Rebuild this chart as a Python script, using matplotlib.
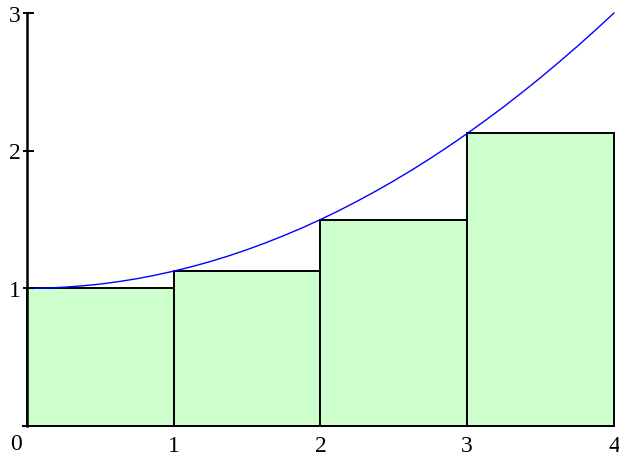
import matplotlib
matplotlib.use("Agg")
import matplotlib.pyplot as plt
from matplotlib.patches import Rectangle
from matplotlib.transforms import offset_copy

# Left-endpoint rectangles under the curve on [0, 4]
left_edges = [0, 1, 2, 3]
heights = [1.0, 1.125, 1.5, 2.125]
width = 1.0

# Curve samples
curve_x = [0, 0.125, 0.25, 0.375, 0.5, 0.625, 0.75, 0.875, 1.0,
           1.125, 1.25, 1.375, 1.5, 1.625, 1.75, 1.875, 2.0,
           2.125, 2.25, 2.375, 2.5, 2.625, 2.75, 2.875, 3.0,
           3.125, 3.25, 3.375, 3.5, 3.625, 3.75, 3.875, 4.0]
curve_y = [1.0, 1.002, 1.008, 1.018, 1.031, 1.049, 1.070, 1.096, 1.125,
           1.158, 1.195, 1.236, 1.281, 1.330, 1.383, 1.439, 1.5,
           1.564, 1.633, 1.705, 1.781, 1.861, 1.945, 2.033, 2.125,
           2.221, 2.320, 2.424, 2.531, 2.643, 2.758, 2.877, 3.0]

x_ticks = [1, 2, 3, 4]
y_ticks = [1, 2, 3]

FILL = "#ccffcc"
FONT = "Liberation Serif"
FS = 17

W, H = 619, 458
fig = plt.figure(figsize=(W / 100, H / 100), dpi=100)
ax = fig.add_axes([27 / W, (H - 426) / H, (614 - 27) / W, (426 - 13) / H])
ax.set_xlim(0, 4)
ax.set_ylim(0, 3)
for s in ax.spines.values():
    s.set_visible(False)
ax.set_xticks([])
ax.set_yticks([])

for x0, h in zip(left_edges, heights):
    ax.add_patch(Rectangle((x0, 0), width, h, facecolor=FILL,
                           edgecolor="black", linewidth=1.4, zorder=2,
                           clip_on=False))

ax.plot(curve_x, curve_y, color="#0000ff", linewidth=1.0, zorder=3,
        clip_on=False)

# y axis with tick marks
ax.plot([0, 0], [0, 3], color="black", linewidth=1.8, zorder=4,
        clip_on=False)
for yt in y_ticks:
    ax.plot([-0.02, 0.04], [yt, yt], color="black", linewidth=1.4,
            zorder=4, clip_on=False)
    t = offset_copy(ax.transData, fig=fig, x=-6, y=-3, units="dots")
    ax.text(0, yt, str(yt), transform=t, ha="right", va="center",
            fontsize=FS, family=FONT)

# x axis baseline and labels
ax.plot([-0.03, 4], [0, 0], color="black", linewidth=1.4, zorder=4,
        clip_on=False)
for xt in x_ticks:
    t = offset_copy(ax.transData, fig=fig, x=0, y=-20, units="dots")
    ax.text(xt, 0, str(xt), transform=t, ha="center", va="center",
            fontsize=FS, family=FONT)
t0 = offset_copy(ax.transData, fig=fig, x=-11, y=-18, units="dots")
ax.text(0, 0, "0", transform=t0, ha="center", va="center",
        fontsize=FS, family=FONT)

fig.savefig("out.png", dpi=100)
